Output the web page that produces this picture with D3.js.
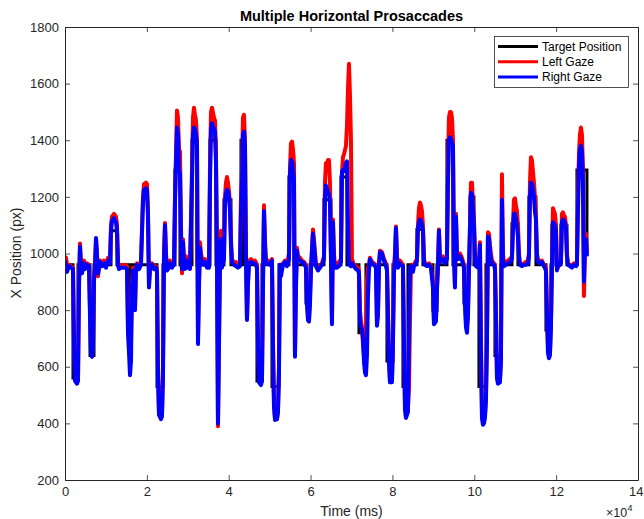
<!DOCTYPE html>
<html><head><meta charset="utf-8">
<script src="https://cdn.jsdelivr.net/npm/d3@7"></script>
<style>body{margin:0;background:#fff}svg{display:block}text{font-family:"Liberation Sans",Arial,Helvetica,sans-serif;fill:#262626}</style>
</head><body>
<script>
// ---------- data ----------
const xTicks = [0, 20000, 40000, 60000, 80000, 100000, 120000, 140000];
const yTicks = [200, 400, 600, 800, 1000, 1200, 1400, 1600, 1800];
const seriesNames = ["Target Position", "Left Gaze", "Right Gaze"];
const seriesColors = ["#000000", "#ff0000", "#0000ff"];

// target step function (value holds until next time)
const targetTime = [0,1954,3176,6108,7085,11238,12704,15391,16124,22476,23941,26873,28095,31026,32248,35424,36889,38844,40554,42997,43730,46906,48127,50570,52280,54723,55945,58876,59854,63274,64984,67427,68893,71824,73534,78665,80130,82573,83795,85994,87459,89902,90880,93323,94788,97476,98453,98942,99919,101140,102850,105049,106515,109202,110668,113355,115065,117508,118730,118974,119951,121173,122639,125082,127525];
const targetValue = [960,560,960,640,960,1080,960,730,960,530,960,1295,960,1400,960,1400,960,1190,960,1400,960,550,960,530,960,1270,960,825,960,1190,960,1270,960,720,960,620,960,530,960,1085,960,800,960,1400,960,825,960,1200,960,530,960,640,960,1105,960,1200,960,730,960,1100,960,1100,960,1295,1000];

const gazeTime = [0,244,489,977,1466,1954,2199,2443,2932,3176,3420,3665,3909,4153,4642,4886,5375,5863,6108,6352,6596,6840,7085,7329,7573,7818,8062,8551,9039,9528,10016,10505,10994,11238,11482,11971,12459,12704,12948,13192,13681,14169,14658,15147,15391,15635,15880,16124,16368,16612,17101,17345,17590,18078,18567,19055,19300,19788,20033,20277,20521,20766,21254,21743,22231,22476,22720,22964,23453,23697,23941,24186,24430,24674,24919,25163,25652,26140,26629,26873,27117,27362,27606,27850,28095,28339,28583,28827,29071,29316,29560,29804,30293,30538,31026,31270,31515,31759,32003,32248,32492,32736,32981,33225,33713,34202,34691,35179,35424,35668,35912,36401,36645,36889,37134,37378,37622,37867,38111,38355,38844,39088,39332,39577,39821,40065,40310,40554,40798,41287,41775,42264,42753,42997,43241,43485,43730,43974,44218,44463,44707,44951,45440,45928,46417,46906,47150,47394,47883,48127,48371,48616,48860,49104,49593,50082,50570,50814,51059,51303,51792,52036,52280,52525,52769,53257,53746,54235,54723,54968,55212,55456,55700,55945,56189,56433,56678,56922,57411,57899,58388,58876,59121,59365,59609,59854,60098,60586,60831,61319,61808,62297,62785,63274,63518,63762,64007,64251,64495,64740,64984,65228,65472,65717,65961,66450,66938,67427,67671,67915,68160,68648,68893,69137,69381,69626,69870,70114,70603,71091,71580,71824,72069,72313,72557,72801,73046,73290,73534,73779,74023,74267,74512,75000,75489,75977,76222,76466,76710,76955,77443,77932,78420,78665,78909,79153,79398,79886,80130,80375,80619,80863,81108,81352,81841,82085,82573,82818,83062,83306,83551,83795,84039,84284,84528,84772,85016,85261,85749,85994,86238,86482,86727,86971,87215,87459,87704,87948,88437,88925,89414,89902,90146,90635,90880,91124,91368,91613,91857,92345,92834,93323,93567,93811,94056,94300,94544,94788,95033,95277,95521,95766,96010,96499,96987,97476,97720,97964,98209,98453,98697,98942,99186,99430,99675,99919,100163,100408,100896,101140,101385,101629,101873,102117,102362,102606,102850,103095,103339,103583,103828,104072,104316,104805,105049,105293,105538,105782,106271,106515,106759,107003,107248,107736,108225,108714,109202,109446,109691,109935,110179,110424,110668,110912,111157,111645,112134,112622,113111,113355,113600,113844,114088,114333,114577,114821,115065,115310,115554,116043,116531,117020,117508,117753,117997,118241,118486,118730,118974,119218,119463,119707,119951,120196,120440,120929,121173,121417,121662,121906,122150,122394,122639,122883,123372,123860,124349,124837,125082,125326,125570,125815,126059,126303,126548,126792,127036,127280,127525];

const leftGaze = [990,985,960,960,955,950,700,560,545,560,900,1035,960,935,975,950,965,960,800,660,640,680,920,960,1050,1000,920,975,960,975,955,985,970,1100,1130,1140,1130,1100,970,950,960,955,960,955,750,690,680,700,900,950,810,950,965,950,975,1200,1245,1250,1245,1150,890,950,965,950,955,940,600,440,420,430,600,1000,1108,1000,950,960,975,955,965,1200,1350,1505,1480,1370,1360,1100,930,1050,980,955,990,960,975,950,1300,1480,1515,1490,1470,1400,700,900,1040,1000,965,980,955,960,1300,1500,1515,1480,1470,1350,1000,390,700,980,1080,960,1000,1200,1250,1270,1250,1220,1170,1050,980,965,970,955,960,1200,1300,1480,1490,1400,1000,770,900,975,980,970,975,960,700,560,540,560,900,1170,1050,970,975,965,980,700,480,420,415,440,600,960,940,965,975,960,1000,1300,1390,1395,1370,1320,640,900,1020,990,985,975,970,960,850,780,760,850,950,1085,1050,960,945,955,965,990,1250,1320,1300,1330,1330,1250,1000,760,1120,1000,955,960,970,980,1280,1340,1350,1380,1450,1580,1670,1560,1400,980,960,955,950,940,800,760,740,680,640,600,700,900,950,960,985,970,965,960,760,800,960,1010,1005,980,965,950,800,640,550,550,700,950,1000,1095,990,960,975,970,960,700,480,420,440,460,520,760,950,960,955,960,975,980,1100,1160,1180,1170,1150,1100,980,965,960,965,955,900,760,770,880,960,1085,980,985,990,975,990,1300,1480,1500,1500,1480,1400,1000,890,1140,1000,990,1000,985,960,850,760,740,800,950,1100,1250,1250,1180,1120,1000,960,955,960,1040,700,450,400,410,430,500,700,1075,1070,1030,1000,975,965,960,800,580,545,550,650,1280,1000,960,970,975,980,990,1100,1190,1195,1170,1150,1100,1000,965,960,965,970,975,1000,1250,1340,1330,1290,1250,1200,1130,1000,980,970,975,960,950,800,680,640,650,760,960,1160,1150,1140,1100,950,950,965,970,1140,1145,1135,1130,1100,1000,965,960,955,965,960,970,1200,1350,1420,1445,1420,1300,850,1000,1070,1000];

const rightGaze = [975,955,935,955,950,945,680,550,540,550,880,1025,950,930,965,945,960,955,780,650,635,670,900,950,1055,990,930,970,955,965,950,975,965,1080,1115,1125,1110,1080,960,945,950,950,950,945,720,650,570,620,880,940,800,945,960,945,960,1180,1225,1230,1225,1130,880,945,960,945,950,935,560,430,415,425,570,980,1100,990,940,945,965,950,960,1180,1320,1445,1420,1300,1280,1050,945,1040,960,945,975,950,965,945,1250,1420,1445,1440,1420,1380,680,880,1020,985,960,970,950,950,1250,1440,1460,1440,1430,1320,980,400,680,960,1050,950,980,1180,1210,1225,1220,1200,1150,1030,970,960,955,950,955,1150,1250,1420,1430,1380,980,765,890,965,970,965,965,950,680,545,535,550,880,1150,1030,965,965,960,975,660,460,412,415,440,580,960,920,960,970,955,980,1280,1330,1325,1300,1260,635,880,1010,980,975,970,965,950,820,765,760,820,940,1070,1030,955,940,950,960,980,1200,1240,1230,1215,1210,1180,980,750,1110,980,950,950,955,970,1290,1295,1290,1320,1325,1100,960,960,955,965,955,945,940,930,760,740,735,700,620,580,570,640,850,940,980,965,960,950,745,780,950,1005,1000,975,955,940,780,620,545,545,680,930,980,1090,980,950,965,960,955,680,450,420,430,440,700,950,955,950,935,955,965,975,1090,1110,1120,1115,1100,1080,975,960,955,960,950,880,750,760,870,950,1080,970,975,980,965,980,1250,1400,1410,1405,1390,1380,990,880,1130,990,980,990,975,950,820,740,720,780,940,1080,1215,1210,1160,1100,990,955,950,950,1030,650,420,395,400,420,480,680,1060,1055,1010,980,965,960,945,780,560,540,545,620,1190,980,955,960,965,970,980,1080,1140,1140,1120,1100,1060,990,960,955,960,960,965,990,1200,1250,1245,1230,1200,1150,1120,990,970,965,970,955,940,780,650,630,640,740,950,1110,1105,1100,1080,940,960,960,965,1110,1120,1115,1110,1090,990,960,955,950,960,955,960,1150,1300,1370,1380,1360,1250,900,1020,1050,990];

// ---------- chart ----------
const W = 644, H = 519;
const svg = d3.select("body").append("svg").attr("width", W).attr("height", H);
const x = d3.scaleLinear().domain([0, 140000]).range([65, 638]);
const y = d3.scaleLinear().domain([200, 1800]).range([480, 27]);

const plot = svg.append("g");
plot.append("defs").append("clipPath").attr("id", "clip")
  .append("rect").attr("x", 65).attr("y", 27).attr("width", 573).attr("height", 453);

const targetData = targetTime.map((t, i) => [t, targetValue[i]]);
const leftData = gazeTime.map((t, i) => [t, leftGaze[i]]);
const rightData = gazeTime.map((t, i) => [t, rightGaze[i]]);

const stepLine = d3.line().x(d => x(d[0])).y(d => y(d[1])).curve(d3.curveStepAfter);
const line = d3.line().x(d => x(d[0])).y(d => y(d[1]));

const g = plot.append("g").attr("clip-path", "url(#clip)");
g.append("path").attr("d", stepLine(targetData)).attr("fill", "none")
  .attr("stroke", seriesColors[0]).attr("stroke-width", 3).attr("stroke-linejoin", "miter");
g.append("path").attr("d", line(leftData)).attr("fill", "none")
  .attr("stroke", seriesColors[1]).attr("stroke-width", 4).attr("stroke-linejoin", "round");
g.append("path").attr("d", line(rightData)).attr("fill", "none")
  .attr("stroke", seriesColors[2]).attr("stroke-width", 4).attr("stroke-linejoin", "round");

// axes
const axisColor = "#262626";
function styleAxis(sel) {
  sel.select(".domain").attr("stroke", axisColor).attr("stroke-width", 1);
  sel.selectAll(".tick line").attr("stroke", axisColor).attr("stroke-width", 0.8);
  sel.selectAll(".tick text").attr("fill", axisColor)
    .style("font-family", '"Liberation Sans",Arial,sans-serif').style("font-size", "13px");
}
const xb = svg.append("g").attr("transform", "translate(0,480)")
  .call(d3.axisBottom(x).tickValues(xTicks).tickFormat(d => d / 10000).tickSizeInner(-5).tickSizeOuter(0).tickPadding(7));
styleAxis(xb);
// keep the last tick label inside the picture
xb.selectAll(".tick text").filter(d => d === 140000).attr("text-anchor", "end").attr("x", 5);
const xt = svg.append("g").attr("transform", "translate(0,27)")
  .call(d3.axisTop(x).tickValues(xTicks).tickFormat("").tickSizeInner(-5).tickSizeOuter(0));
styleAxis(xt);
const yl = svg.append("g").attr("transform", "translate(65,0)")
  .call(d3.axisLeft(y).tickValues(yTicks).tickFormat(d3.format("d")).tickSizeInner(-5).tickSizeOuter(0).tickPadding(6));
styleAxis(yl);
const yr = svg.append("g").attr("transform", "translate(638,0)")
  .call(d3.axisRight(y).tickValues(yTicks).tickFormat("").tickSizeInner(-5).tickSizeOuter(0));
styleAxis(yr);

// labels
svg.append("text").attr("x", 351.5).attr("y", 21).attr("text-anchor", "middle")
  .style("font-size", "14.5px").style("font-weight", "bold").style("fill", "#000")
  .text("Multiple Horizontal Prosaccades");
svg.append("text").attr("x", 351.5).attr("y", 516).attr("text-anchor", "middle")
  .style("font-size", "14px").text("Time (ms)");
svg.append("text").attr("transform", "translate(21,253) rotate(-90)").attr("text-anchor", "middle")
  .style("font-size", "14px").text("X Position (px)");
const mult = svg.append("text").attr("x", 606).attr("y", 517).style("font-size", "12.5px");
mult.append("tspan").text("\u00d710");
mult.append("tspan").attr("dy", -6).style("font-size", "9.5px").text("4");

// legend
const leg = svg.append("g");
leg.append("rect").attr("x", 494.5).attr("y", 36.5).attr("width", 134).attr("height", 51)
  .attr("fill", "#fff").attr("stroke", "#262626").attr("stroke-width", 0.8);
seriesNames.forEach((name, i) => {
  const yy = 46.5 + i * 15.3;
  leg.append("line").attr("x1", 498).attr("x2", 538).attr("y1", yy).attr("y2", yy)
    .attr("stroke", seriesColors[i]).attr("stroke-width", 3);
  leg.append("text").attr("x", 542).attr("y", yy + 4.3).style("font-size", "12px").style("fill", "#000").text(name);
});
</script>
</body></html>
